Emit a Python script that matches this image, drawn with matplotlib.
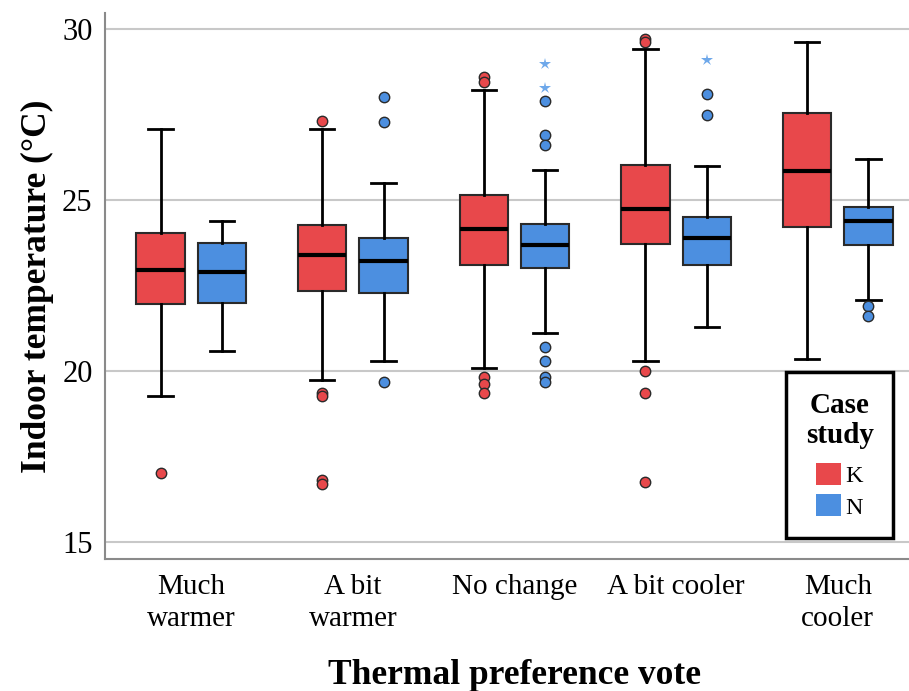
import matplotlib
matplotlib.use("Agg")
import matplotlib.pyplot as plt
from matplotlib.patches import Patch

# Thermal preference categories
categories = ["Much\nwarmer", "A bit\nwarmer", "No change", "A bit cooler", "Much\ncooler"]

# Case study K: box-plot summary statistics (°C)
k_med = [22.96, 23.40, 24.17, 24.75, 25.87]
k_q1 = [21.96, 22.35, 23.11, 23.72, 24.21]
k_q3 = [24.04, 24.27, 25.16, 26.03, 27.56]
k_lo = [19.28, 19.75, 20.10, 20.30, 20.36]
k_hi = [27.10, 27.10, 28.22, 29.42, 29.63]
k_out = [[17.04],
         [27.32, 19.37, 19.28, 16.82, 16.70],
         [28.61, 28.47, 19.82, 19.63, 19.36],
         [29.72, 29.62, 20.02, 19.37, 16.77],
         []]
k_ext = [[], [], [], [], []]

# Case study N: box-plot summary statistics (°C)
n_med = [22.90, 23.22, 23.69, 23.91, 24.40]
n_q1 = [22.00, 22.30, 23.01, 23.11, 23.69]
n_q3 = [23.75, 23.90, 24.30, 24.50, 24.80]
n_lo = [20.60, 20.30, 21.11, 21.30, 22.10]
n_hi = [24.40, 25.50, 25.90, 26.01, 26.20]
n_out = [[],
         [28.01, 27.30, 19.70],
         [27.91, 26.91, 26.61, 20.72, 20.31, 19.84, 19.70],
         [28.10, 27.49],
         [21.91, 21.62]]
n_ext = [[], [], [29.00, 28.29], [29.10], []]

groups = ["K", "N"]
y_ticks = [15, 20, 25, 30]

RED = "#E8484B"
BLUE = "#4C8FE0"
STAR = "#6EA8EA"
EDGE = "#2a2a2a"

plt.rcParams["font.family"] = ["Liberation Serif", "DejaVu Serif"]

fig = plt.figure(figsize=(9.09, 6.91), dpi=100)
ax = fig.add_axes([105 / 909, 1 - 559 / 691, (924 - 105) / 909, (559 - 13) / 691])

offset = 0.19
width = 0.30


def make_stats(med, q1, q3, lo, hi, out):
    return [dict(med=m, q1=a, q3=b, whislo=l, whishi=h, fliers=f)
            for m, a, b, l, h, f in zip(med, q1, q3, lo, hi, out)]


series = [
    (make_stats(k_med, k_q1, k_q3, k_lo, k_hi, k_out), k_ext, RED, -offset),
    (make_stats(n_med, n_q1, n_q3, n_lo, n_hi, n_out), n_ext, BLUE, offset),
]

for stats, extremes, color, dx in series:
    pos = [i + dx for i in range(len(categories))]
    ax.bxp(stats, positions=pos, widths=width, patch_artist=True,
           manage_ticks=False, zorder=3,
           boxprops=dict(facecolor=color, edgecolor=EDGE, linewidth=1.5),
           medianprops=dict(color="black", linewidth=3.0, solid_capstyle="butt"),
           whiskerprops=dict(color="black", linewidth=2.0),
           capprops=dict(color="black", linewidth=2.0),
           capwidths=width * 0.5,
           flierprops=dict(marker="o", markersize=7.5, markerfacecolor=color,
                           markeredgecolor=EDGE, markeredgewidth=1.0))
    for p, ext in zip(pos, extremes):
        if ext:
            ax.plot([p] * len(ext), ext, linestyle="none", marker="*",
                    markersize=9, color=STAR, markeredgewidth=0, zorder=4)

ax.set_xlim(-0.534, len(categories) - 1 + 0.534)
ax.set_ylim(14.51, 30.48)
ax.set_yticks(y_ticks)
ax.set_xticks(range(len(categories)))
ax.set_xticklabels(categories, fontsize=21, linespacing=1.3)
ax.tick_params(axis="y", labelsize=22, length=0, pad=9)
ax.tick_params(axis="x", length=0, pad=11)

ax.yaxis.grid(True, color="#c8c8c8", linewidth=1.5, zorder=0)
ax.set_axisbelow(True)
for side in ("top", "right"):
    ax.spines[side].set_visible(False)
for side in ("left", "bottom"):
    ax.spines[side].set_color("#8a8a8a")
    ax.spines[side].set_linewidth(1.5)

ax.set_ylabel("Indoor temperature (°C)", fontsize=25.5, fontweight="bold", labelpad=6)
ax.set_xlabel("Thermal preference vote", fontsize=25.5, fontweight="bold", labelpad=19)

handles = [Patch(facecolor=RED, edgecolor="none", label=groups[0]),
           Patch(facecolor=BLUE, edgecolor="none", label=groups[1])]
leg = fig.legend(handles=handles, title="Case\nstudy", loc="lower right",
                 bbox_to_anchor=(893 / 909, 1 - 538 / 691),
                 bbox_transform=fig.transFigure, borderaxespad=0,
                 fontsize=17.5, title_fontproperties=dict(size=21, weight="bold"),
                 frameon=True, fancybox=False, edgecolor="black", framealpha=1.0,
                 handlelength=1.0, handleheight=1.0, handletextpad=0.2,
                 labelspacing=0.3, borderpad=0.8, alignment="center")
leg.get_frame().set_linewidth(2.5)
leg.get_title().set_linespacing(1.15)
leg.get_title().set_horizontalalignment("center")
leg._legend_box.sep = 10

fig.savefig("out.png", dpi=100)
